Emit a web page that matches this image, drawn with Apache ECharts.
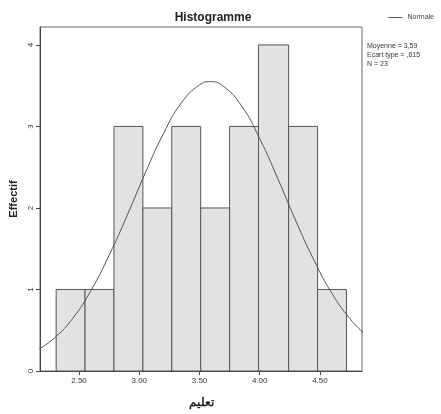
<!DOCTYPE html>
<html>
<head>
<meta charset="utf-8">
<script src="https://cdn.jsdelivr.net/npm/echarts@6/dist/echarts.min.js"></script>
<style>
  html, body { margin: 0; padding: 0; background: #fff; }
  #chart { width: 441px; height: 414px; }
</style>
</head>
<body>
<div id="chart"></div>
<script>
// bins
const binStart = [2.31, 2.55, 2.79, 3.03, 3.27, 3.51, 3.75, 3.99, 4.24, 4.48];
const binEnd   = [2.55, 2.79, 3.03, 3.27, 3.51, 3.75, 3.99, 4.24, 4.48, 4.72];
const counts   = [1, 1, 3, 2, 3, 2, 3, 4, 3, 1];

// normal curve, points
const curveX = [2.17, 2.3, 2.45, 2.6, 2.75, 2.9, 3.05, 3.2, 3.35, 3.5, 3.59, 3.7, 3.85, 4.0, 4.15, 4.3, 4.45, 4.6, 4.75, 4.86];
const curveY = [0.27, 0.41, 0.65, 0.99, 1.42, 1.91, 2.43, 2.91, 3.29, 3.51, 3.55, 3.49, 3.25, 2.85, 2.36, 1.84, 1.36, 0.95, 0.64, 0.47];

const xTicks = [2.5, 3.0, 3.5, 4.0, 4.5];
const yTicks = [0, 1, 2, 3, 4];
const statLines = ['Moyenne = 3,59', 'Ecart type = ,615', 'N = 23'];

const font = 'Liberation Sans';
const chart = echarts.init(document.getElementById('chart'));

const barData = counts.map((c, i) => [binStart[i], binEnd[i], c]);
const curveData = curveX.map((x, i) => [x, curveY[i]]);

chart.setOption({
  animation: false,
  textStyle: { fontFamily: font },
  title: {
    text: 'Histogramme',
    left: 208, top: 7, textAlign: 'center',
    textStyle: { fontSize: 12, fontWeight: 'bold', color: '#222', fontFamily: font }
  },
  legend: {
    right: 2, top: 9,
    itemWidth: 14, itemHeight: 1, itemGap: 4,
    textStyle: { fontSize: 7, color: '#444', fontFamily: font },
    data: [{ name: 'Normale', icon: 'rect' }]
  },
  grid: {
    left: 40, right: 79, top: 27, bottom: 42,
    show: true, borderColor: '#666', borderWidth: 1
  },
  xAxis: {
    type: 'value', min: 2.176, max: 4.849,
    name: 'تعليم', nameLocation: 'middle', nameGap: 26,
    nameTextStyle: { fontSize: 12, fontWeight: 'bold', color: '#222', fontFamily: 'Noto Sans' },
    splitLine: { show: false },
    axisLine: { lineStyle: { color: '#444' } },
    axisTick: { customValues: xTicks, length: 4, lineStyle: { color: '#444' } },
    axisLabel: { customValues: xTicks, fontSize: 8, color: '#333', margin: 6,
      formatter: v => v.toFixed(2) }
  },
  yAxis: {
    type: 'value', min: 0, max: 4.22,
    name: 'Effectif', nameLocation: 'middle', nameGap: 20, nameRotate: 90,
    nameTextStyle: { fontSize: 11, fontWeight: 'bold', color: '#222' },
    splitLine: { show: false },
    axisLine: { show: true, lineStyle: { color: '#444' } },
    axisTick: { show: true, customValues: yTicks, length: 4, lineStyle: { color: '#444' } },
    axisLabel: { customValues: yTicks, fontSize: 8, color: '#333', rotate: 90, margin: 5 }
  },
  graphic: statLines.map((t, i) => ({
    type: 'text', left: 367, top: 43 + i * 9,
    style: { text: t, fontSize: 7, fill: '#333', fontFamily: font }
  })),
  series: [
    {
      type: 'custom',
      data: barData,
      renderItem: (params, api) => {
        const p0 = api.coord([api.value(0), 0]);
        const p1 = api.coord([api.value(1), api.value(2)]);
        return {
          type: 'rect',
          shape: { x: p0[0], y: p1[1], width: p1[0] - p0[0], height: p0[1] - p1[1] },
          style: { fill: '#e2e2e2', stroke: '#555', lineWidth: 1 }
        };
      },
      encode: { x: [0, 1], y: 2 },
      z: 2
    },
    {
      name: 'Normale',
      type: 'line',
      smooth: true,
      symbol: 'none',
      data: curveData,
      lineStyle: { color: '#555', width: 1 },
      itemStyle: { color: '#555' },
      z: 3
    }
  ]
});
</script>
</body>
</html>
